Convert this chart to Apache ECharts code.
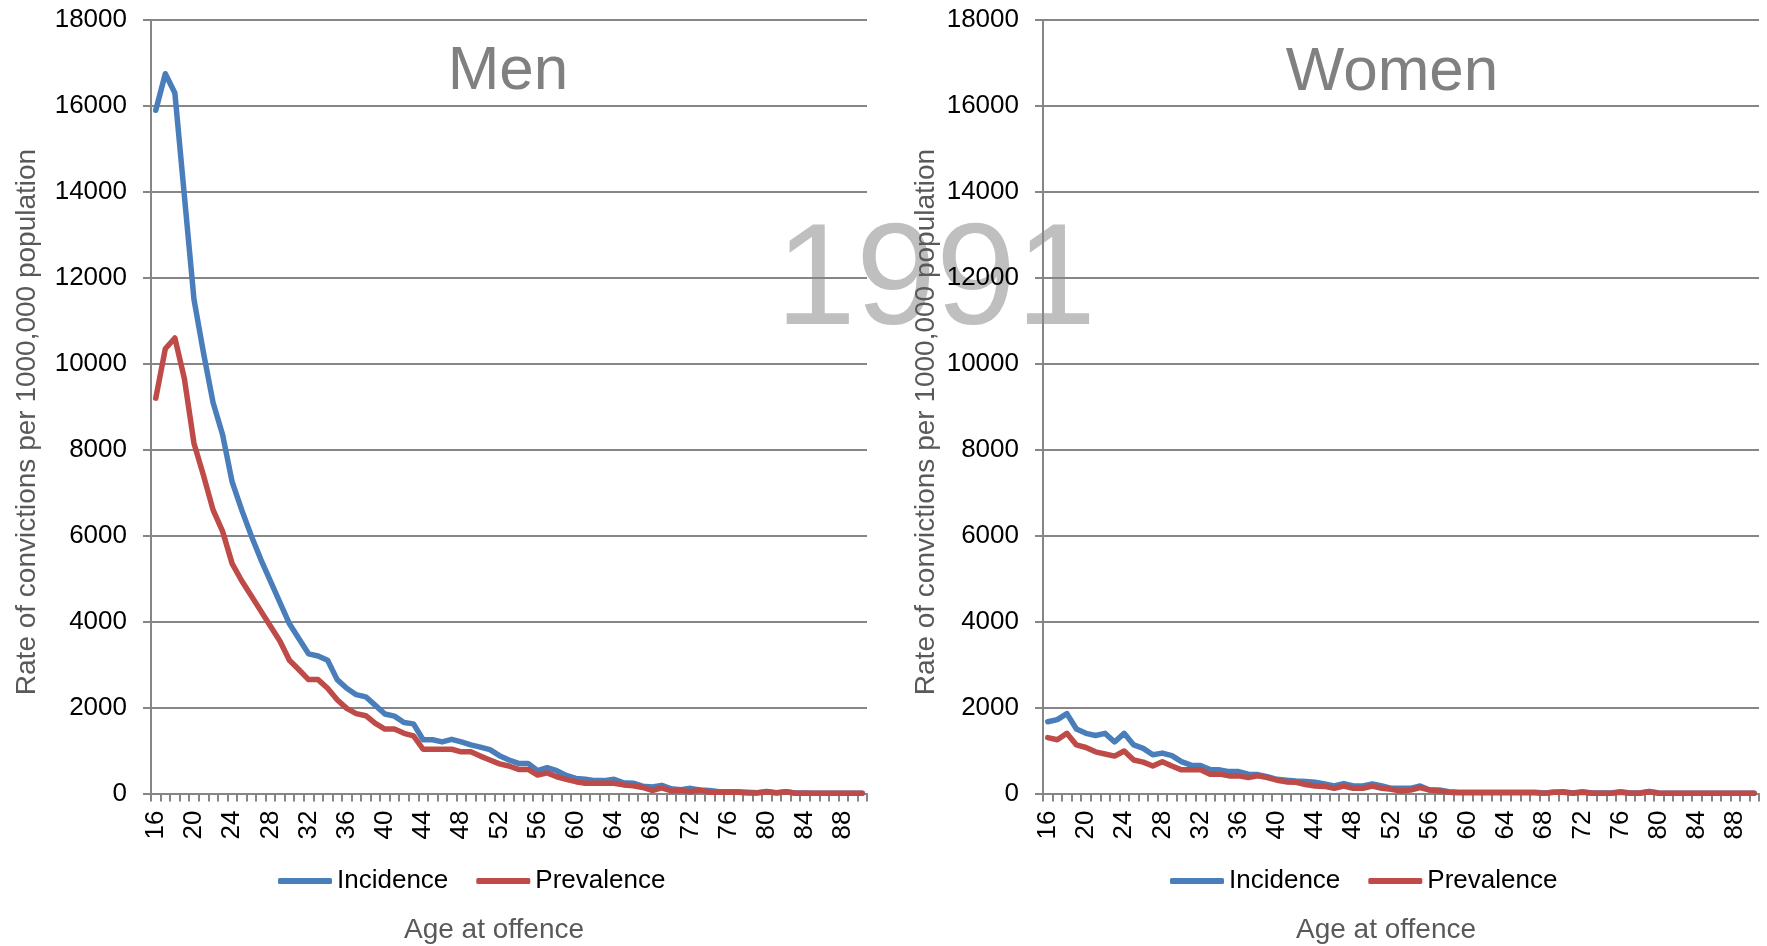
<!DOCTYPE html>
<html>
<head>
<meta charset="utf-8">
<script src="https://cdn.jsdelivr.net/npm/echarts@6/dist/echarts.min.js"></script>
<style>
  html, body { margin: 0; padding: 0; background: #ffffff; }
  #chart { width: 1767px; height: 946px; }
</style>
</head>
<body>
<div id="chart"></div>
<script>
// ---- Data ----
const ages = ['16','17','18','19','20','21','22','23','24','25','26','27','28','29','30','31','32','33','34','35',
  '36','37','38','39','40','41','42','43','44','45','46','47','48','49','50','51','52','53','54','55',
  '56','57','58','59','60','61','62','63','64','65','66','67','68','69','70','71','72','73','74','75',
  '76','77','78','79','80','81','82','83','84','85','86','87','88','89','90'];

const yTicks = { min: 0, max: 18000, interval: 2000 };

const menIncidence = [15900,16750,16300,13900,11500,10250,9100,8350,7250,6600,
  6000,5450,4950,4450,3950,3600,3250,3200,3100,2650,
  2450,2300,2250,2050,1850,1800,1650,1620,1250,1250,
  1200,1260,1200,1130,1080,1020,880,780,700,700,
  530,600,530,420,350,330,300,300,330,250,
  240,170,150,190,110,90,120,80,70,40,
  40,40,30,20,50,20,40,10,10,5,
  5,5,5,5,5];

const menPrevalence = [9200,10350,10600,9650,8150,7400,6600,6100,5350,4950,
  4600,4250,3900,3550,3100,2880,2650,2650,2450,2180,
  1980,1860,1810,1630,1500,1500,1400,1340,1030,1030,
  1030,1030,970,970,870,780,690,640,560,560,
  430,480,390,330,275,240,240,240,240,200,
  180,140,70,130,60,70,40,80,30,30,
  30,30,10,10,40,10,40,5,5,5,
  5,5,5,5,5];

const womenIncidence = [1670,1720,1860,1500,1400,1350,1400,1200,1400,1130,
  1050,900,940,880,740,660,650,560,550,510,
  510,450,440,390,330,310,290,280,260,220,
  175,230,175,175,220,175,120,120,120,175,
  80,80,40,30,30,30,30,30,30,30,
  30,30,10,30,40,10,40,10,10,10,
  40,10,10,50,10,5,5,5,5,5,
  5,5,5,5,5];

const womenPrevalence = [1300,1250,1400,1130,1070,970,920,870,990,780,
  730,640,740,640,550,550,550,450,450,410,
  410,370,410,370,310,270,260,210,175,165,
  120,175,120,120,175,120,100,60,80,140,
  80,60,30,20,20,20,20,20,20,20,
  20,20,5,30,30,5,30,5,5,5,
  30,5,5,40,5,5,5,5,5,5,
  5,5,5,5,5];

const seriesNames = ['Incidence', 'Prevalence'];
const panelTitles = ['Men', 'Women'];
const yearLabel = '1991';
const yAxisTitle = 'Rate of convictions per 1000,000 population';
const xAxisTitle = 'Age at offence';

// ---- Style ----
const FONT = "'Liberation Sans', Arial, Helvetica, sans-serif";
const GRID_COLOR = '#868686';
const BLUE = '#4A7EBB';
const RED = '#BE4B48';

function makeX(gridIndex) {
  return {
    type: 'category', gridIndex: gridIndex, data: ages, boundaryGap: true,
    axisLine: { show: true, lineStyle: { color: GRID_COLOR, width: 2 } },
    axisTick: { show: true, interval: 0, length: 8, lineStyle: { color: GRID_COLOR, width: 2 } },
    axisLabel: { interval: 3, rotate: 90, fontSize: 26, color: '#000', fontFamily: FONT, margin: 17 },
    splitLine: { show: false }
  };
}
function makeY(gridIndex) {
  return {
    type: 'value', gridIndex: gridIndex, min: yTicks.min, max: yTicks.max, interval: yTicks.interval,
    axisLine: { show: true, lineStyle: { color: GRID_COLOR, width: 2 } },
    axisTick: { show: true, length: 8, lineStyle: { color: GRID_COLOR, width: 2 } },
    axisLabel: { fontSize: 26, color: '#000', fontFamily: FONT, margin: 24, formatter: function (v) { return String(v); } },
    splitLine: { show: true, lineStyle: { color: GRID_COLOR, width: 2 } }
  };
}
function makeLine(name, data, color, idx) {
  return {
    name: name, type: 'line', data: data, xAxisIndex: idx, yAxisIndex: idx,
    showSymbol: false, symbol: 'none', smooth: false, animation: false,
    lineStyle: { color: color, width: 5.5, cap: 'round', join: 'round' },
    itemStyle: { color: color }
  };
}
function makeLegend(left) {
  return {
    data: seriesNames, left: left, top: 863, orient: 'horizontal',
    icon: 'roundRect', itemWidth: 54, itemHeight: 6, itemGap: 28,
    textStyle: { fontSize: 26, color: '#000', fontFamily: FONT }
  };
}
function txt(text, x, y, size, color, rot, z) {
  return {
    type: 'text', x: x, y: y, rotation: rot || 0, z: z === undefined ? 10 : z, silent: true,
    style: { text: text, fontSize: size, fontFamily: FONT, fill: color, align: 'center', verticalAlign: 'middle' }
  };
}

const chart = echarts.init(document.getElementById('chart'), null, { renderer: 'canvas' });
chart.setOption({
  backgroundColor: '#ffffff',
  animation: false,
  grid: [
    { left: 151, top: 20, width: 716, bottom: 152.5, containLabel: false },
    { left: 1043, top: 20, width: 716, bottom: 152.5, containLabel: false }
  ],
  xAxis: [makeX(0), makeX(1)],
  yAxis: [makeY(0), makeY(1)],
  legend: [makeLegend(273), makeLegend(1165)],
  series: [
    makeLine(seriesNames[0], menIncidence, BLUE, 0),
    makeLine(seriesNames[1], menPrevalence, RED, 0),
    makeLine(seriesNames[0], womenIncidence, BLUE, 1),
    makeLine(seriesNames[1], womenPrevalence, RED, 1)
  ],
  graphic: [
    txt(yearLabel, 936, 284, 144, '#BFBFBF', 0, -1),
    txt(panelTitles[0], 508, 72, 62, '#808080'),
    txt(panelTitles[1], 1392, 73, 62, '#808080'),
    txt(yAxisTitle, 27, 422, 28, '#595959', Math.PI / 2),
    txt(yAxisTitle, 926, 422, 28, '#595959', Math.PI / 2),
    txt(xAxisTitle, 494, 930, 28, '#595959'),
    txt(xAxisTitle, 1386, 930, 28, '#595959')
  ]
});
</script>
</body>
</html>
